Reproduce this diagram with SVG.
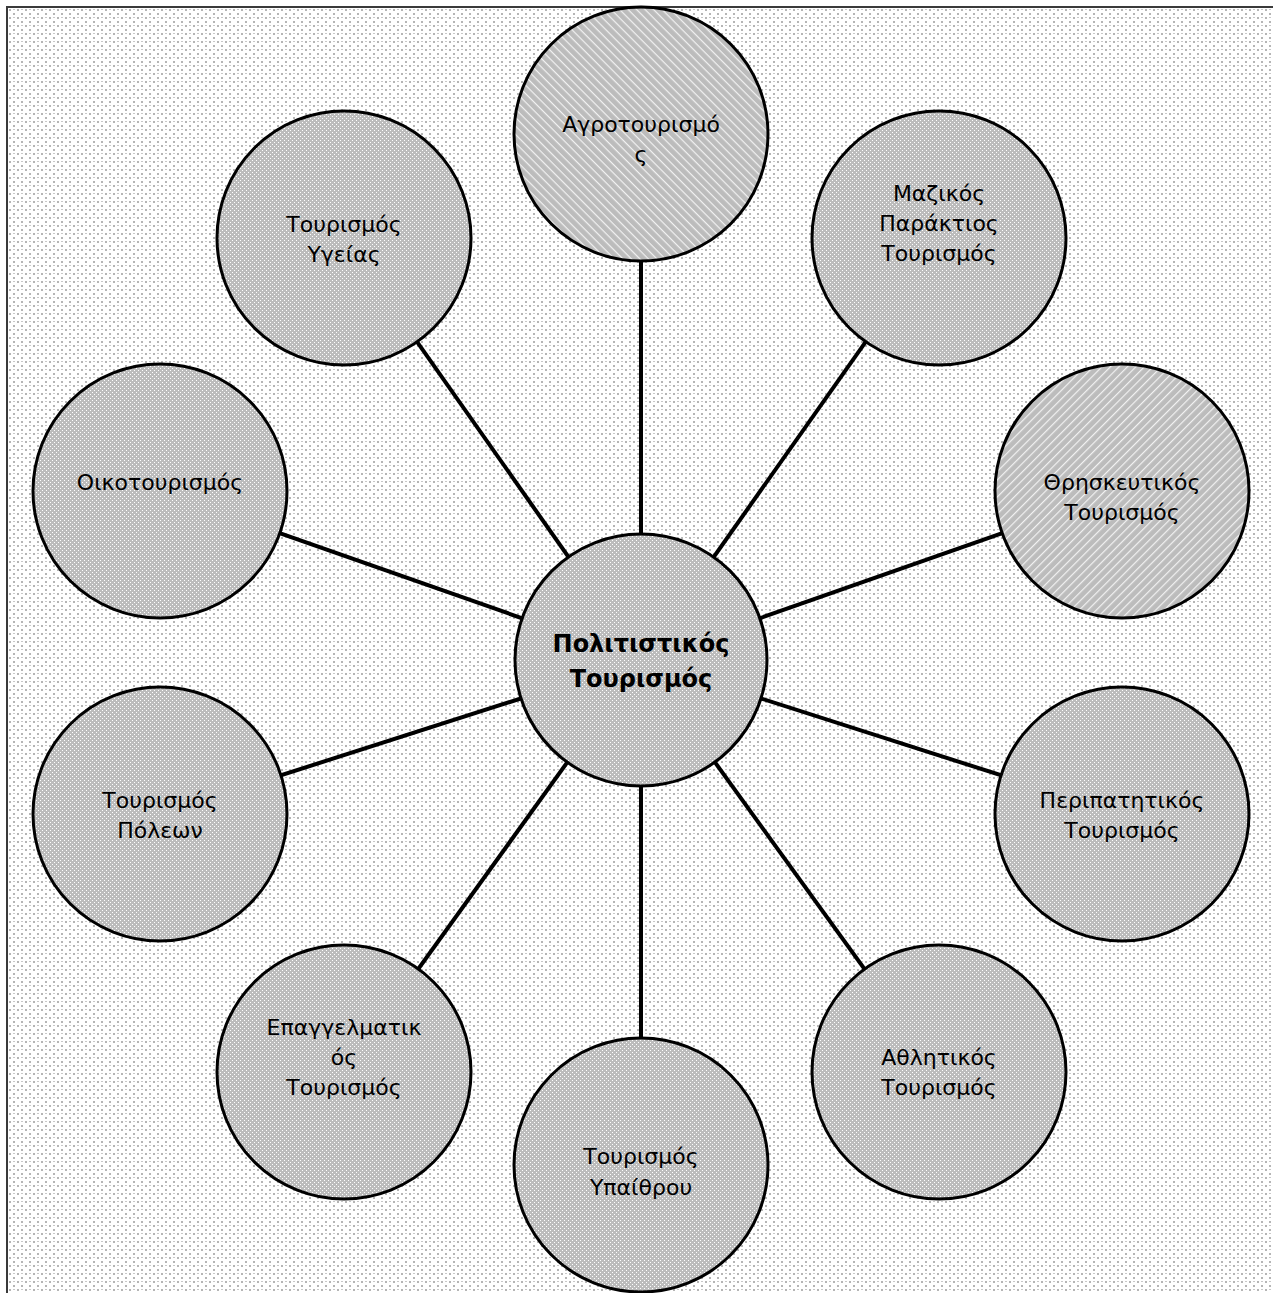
<svg xmlns="http://www.w3.org/2000/svg" width="1273" height="1293" viewBox="0 0 1273 1293">
<defs>
<pattern id="bg" width="8" height="8" patternUnits="userSpaceOnUse">
<rect width="8" height="8" fill="#ffffff"/>
<rect x="1" y="1" width="2" height="2" fill="#b5b5b5"/>
<rect x="5" y="5" width="2" height="2" fill="#b5b5b5"/>
<rect x="5" y="1" width="2" height="1" fill="#c8c8c8"/>
</pattern>
<pattern id="dots" width="4" height="4" patternUnits="userSpaceOnUse">
<rect width="4" height="4" fill="#bcbcbc"/>
<rect x="0" y="0" width="1" height="1" fill="#ffffff"/>
<rect x="2" y="2" width="1" height="1" fill="#ffffff"/>
</pattern>
<pattern id="diagA" width="6" height="6" patternUnits="userSpaceOnUse" patternTransform="rotate(45)">
<rect width="6" height="6" fill="#bcbcbc"/>
<rect x="0" y="0" width="6" height="1.2" fill="#ffffff" opacity="0.8"/>
</pattern>
<pattern id="diagB" width="6" height="6" patternUnits="userSpaceOnUse" patternTransform="rotate(-45)">
<rect width="6" height="6" fill="#bcbcbc"/>
<rect x="0" y="0" width="6" height="1.2" fill="#ffffff" opacity="0.8"/>
</pattern>
</defs>
<style>
.n{stroke:#000;stroke-width:3;fill:url(#dots)}
.na{stroke:#000;stroke-width:3;fill:url(#diagA)}
.nb{stroke:#000;stroke-width:3;fill:url(#diagB)}
.t{font-family:"DejaVu Sans",Verdana,sans-serif;font-size:22px;fill:#000;text-anchor:middle}
.b{font-family:"DejaVu Sans",Verdana,sans-serif;font-size:24px;font-weight:bold;fill:#000;text-anchor:middle}
.c{stroke:#000;stroke-width:4}
</style>
<rect x="7" y="7" width="1300" height="1300" fill="url(#bg)" stroke="#3a3a3a" stroke-width="2"/>
<g id="connectors">
<line class="c" x1="641" y1="660" x2="641" y2="134"/>
<line class="c" x1="641" y1="660" x2="939" y2="238"/>
<line class="c" x1="641" y1="660" x2="1122" y2="491"/>
<line class="c" x1="641" y1="660" x2="1122" y2="814"/>
<line class="c" x1="641" y1="660" x2="939" y2="1072"/>
<line class="c" x1="641" y1="660" x2="641" y2="1165"/>
<line class="c" x1="641" y1="660" x2="344" y2="1072"/>
<line class="c" x1="641" y1="660" x2="160" y2="814"/>
<line class="c" x1="641" y1="660" x2="160" y2="491"/>
<line class="c" x1="641" y1="660" x2="344" y2="238"/>
</g>
<g id="agro"><circle class="na" cx="641" cy="134" r="127"/><text class="t" x="641" y="132">Αγροτουρισμό</text><text class="t" x="641" y="162">ς</text></g>
<g id="mazikos"><circle class="n" cx="939" cy="238" r="127"/><text class="t" x="939" y="201">Μαζικός</text><text class="t" x="939" y="231">Παράκτιος</text><text class="t" x="939" y="261">Τουρισμός</text></g>
<g id="thriskeftikos"><circle class="nb" cx="1122" cy="491" r="127"/><text class="t" x="1122" y="490">Θρησκευτικός</text><text class="t" x="1122" y="520">Τουρισμός</text></g>
<g id="peripatitikos"><circle class="n" cx="1122" cy="814" r="127"/><text class="t" x="1122" y="808">Περιπατητικός</text><text class="t" x="1122" y="838">Τουρισμός</text></g>
<g id="athlitikos"><circle class="n" cx="939" cy="1072" r="127"/><text class="t" x="939" y="1065">Αθλητικός</text><text class="t" x="939" y="1095">Τουρισμός</text></g>
<g id="ypaithrou"><circle class="n" cx="641" cy="1165" r="127"/><text class="t" x="641" y="1164">Τουρισμός</text><text class="t" x="641" y="1195">Υπαίθρου</text></g>
<g id="epaggelmatikos"><circle class="n" cx="344" cy="1072" r="127"/><text class="t" x="344" y="1035">Επαγγελματικ</text><text class="t" x="344" y="1065">ός</text><text class="t" x="344" y="1095">Τουρισμός</text></g>
<g id="poleon"><circle class="n" cx="160" cy="814" r="127"/><text class="t" x="160" y="808">Τουρισμός</text><text class="t" x="160" y="838">Πόλεων</text></g>
<g id="oikotourismos"><circle class="n" cx="160" cy="491" r="127"/><text class="t" x="160" y="490">Οικοτουρισμός</text></g>
<g id="ygeias"><circle class="n" cx="344" cy="238" r="127"/><text class="t" x="344" y="232">Τουρισμός</text><text class="t" x="344" y="262">Υγείας</text></g>
<g id="center"><circle class="n" cx="641" cy="660" r="126"/><text class="b" x="641" y="652">Πολιτιστικός</text><text class="b" x="641" y="687">Τουρισμός</text></g>
</svg>
